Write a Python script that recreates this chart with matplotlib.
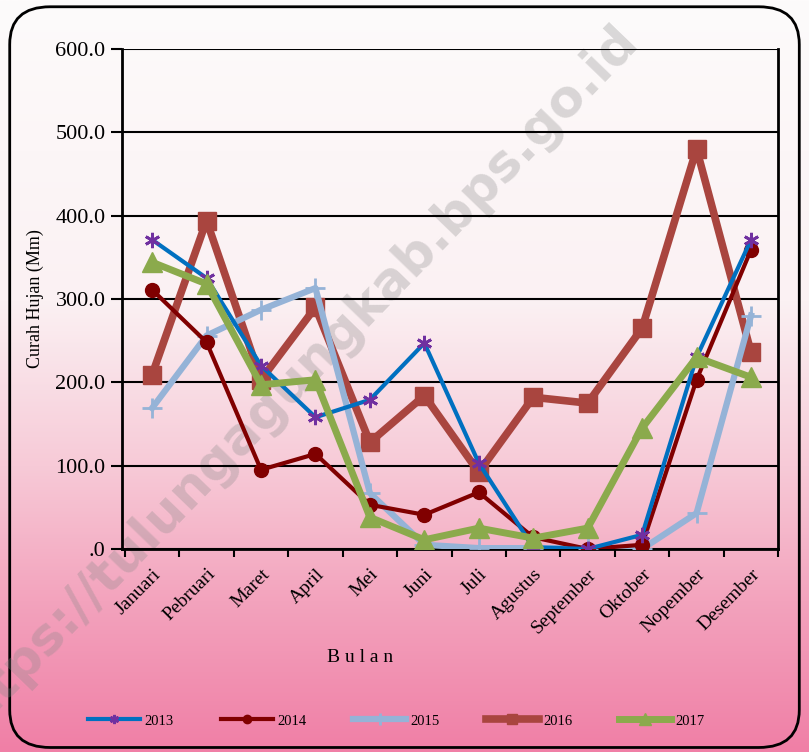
import matplotlib.pyplot as plt
import numpy as np
from matplotlib.patches import FancyBboxPatch
from matplotlib.colors import LinearSegmentedColormap

months = ["Januari", "Pebruari", "Maret", "April", "Mei", "Juni", "Juli",
          "Agustus", "September", "Oktober", "Nopember", "Desember"]
y2013 = [371, 325, 220, 158, 179, 247, 103, 2, 0, 17, 230, 371]
y2014 = [311, 248, 95, 114, 53, 41, 68, 14, 0, 5, 203, 359]
y2015 = [169, 256, 287, 313, 67, 5, 1, 1, 1, 0, 43, 280]
y2016 = [209, 394, 203, 290, 128, 184, 92, 182, 175, 265, 480, 236]
y2017 = [344, 318, 197, 203, 38, 11, 25, 13, 25, 145, 230, 206]
yticks = [0, 100, 200, 300, 400, 500, 600]
ytick_labels = [".0", "100.0", "200.0", "300.0", "400.0", "500.0", "600.0"]

plt.rcParams['font.family'] = ['Liberation Serif', 'DejaVu Serif']

fig = plt.figure(figsize=(8.09, 7.52), dpi=100)

# background: white to pink gradient
bg = fig.add_axes([0, 0, 1, 1], zorder=0)
grad = np.linspace(0, 1, 256).reshape(-1, 1)
cmap = LinearSegmentedColormap.from_list(
    "bgp", [(0, "#fdfbfb"), (0.4, "#fbf1f3"), (0.62, "#f7cad7"), (0.8, "#f3a3bd"), (1.0, "#f07fa6")])
bg.imshow(grad, aspect="auto", cmap=cmap, extent=[0, 1, 0, 1], origin="upper")
bg.add_patch(FancyBboxPatch((0.012, 0.006), 0.976, 0.985,
                            boxstyle="round,pad=0,rounding_size=0.05",
                            fill=False, edgecolor="black", linewidth=2,
                            transform=bg.transAxes))
bg.text(0.36, 0.49, "https://tulungagungkab.bps.go.id", rotation=46,
        ha="center", va="center", fontsize=37, fontweight="bold",
        family="DejaVu Sans", color="#888888", alpha=0.3, clip_on=True)
bg.set_xlim(0, 1)
bg.set_ylim(0, 1)
bg.axis("off")

ax = fig.add_axes([0.151, 0.270, 0.811, 0.665], zorder=1)
ax.patch.set_alpha(0)
x = np.arange(len(months))

ax.plot(x, y2013, color="#0070C0", lw=3, marker=(6, 2, 0), ms=11,
        mec="#7030A0", mew=2, label="2013", zorder=5)
ax.plot(x, y2014, color="#800000", lw=3, marker="o", ms=10,
        mfc="#800000", mec="#800000", label="2014", zorder=4)
ax.plot(x, y2015, color="#95B3D7", lw=4.5, marker="+", ms=14,
        mec="#95B3D7", mew=2, label="2015", zorder=3)
ax.plot(x, y2016, color="#A9453F", lw=5.5, marker="s", ms=13,
        mfc="#A9453F", mec="#A9453F", label="2016", zorder=2)
ax.plot(x, y2017, color="#8BAA4C", lw=5, marker="^", ms=14,
        mfc="#8BAA4C", mec="#8BAA4C", label="2017", zorder=6)

ax.set_xlim(-0.55, 11.5)
ax.set_ylim(0, 600)
ax.set_yticks(yticks)
ax.set_yticklabels(ytick_labels, fontsize=16)
ax.grid(axis="y", color="black", lw=1.5)
ax.set_axisbelow(True)
ax.set_xticks(x)
ax.set_xticklabels(months, rotation=45, ha="right", rotation_mode="anchor", fontsize=14)
ax.set_xticks(np.arange(-0.5, 12, 1), minor=True)
ax.tick_params(axis="x", which="major", length=0, pad=12)
ax.tick_params(axis="x", which="minor", length=6, width=1.5, direction="out")
ax.tick_params(axis="y", length=8, width=1.5, direction="out", pad=4)
for s in ["left", "bottom", "right"]:
    ax.spines[s].set_linewidth(2)
ax.spines["top"].set_visible(False)

ax.set_ylabel("Curah Hujan (Mm)", fontsize=13, labelpad=8)
fig.text(0.445, 0.12, "B u l a n", fontsize=14, ha="center")

fig.legend(loc="lower center", ncol=5, frameon=False, fontsize=10.5,
           bbox_to_anchor=(0.49, 0.015), handlelength=3.6, columnspacing=3.2,
           handletextpad=0.3, markerscale=0.6)

fig.savefig("out.png", dpi=100)
